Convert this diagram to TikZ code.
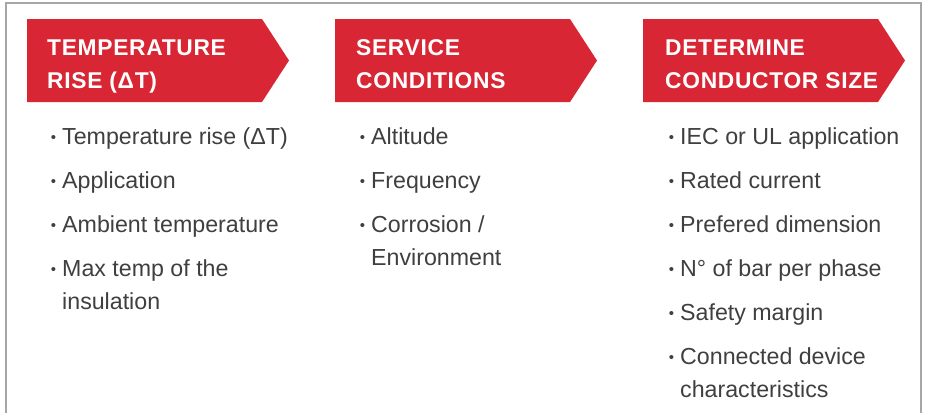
\documentclass[tikz,border=0pt]{standalone}
\usepackage{fontspec}
\setmainfont{Liberation Sans}
\newfontfamily\bannerfont[LetterSpace=3]{Liberation Sans}
\definecolor{bannerred}{HTML}{D92634}
\definecolor{bodygray}{HTML}{3F3F3F}
\definecolor{framegray}{HTML}{A6A6A6}
\tikzset{
  banner/.style={fill=bannerred},
  bannertext/.style={anchor=base west, inner sep=0pt, text=white, align=left,
    font=\bannerfont\bfseries\fontsize{22.8}{33}\selectfont},
  item/.style={anchor=base west, inner sep=0pt, text=bodygray, align=left,
    font=\fontsize{23.2}{33}\selectfont},
}
\newcommand{\itembullet}{\llap{\raisebox{1.5pt}{\fontsize{15}{15}\selectfont •}\hspace{6pt}}}
\begin{document}
\begin{tikzpicture}[x=1pt,y=-1pt]
\useasboundingbox (0,0) rectangle (925,413);
% frame
\draw[framegray, line width=1.3pt] (6,413) -- (6,3) -- (921,3) -- (921,413);
% banners
\foreach \bx in {27,335,643}{
  \fill[banner] (\bx,19) -- (\bx+235,19) -- (\bx+262,60.5) -- (\bx+235,102) -- (\bx,102) -- cycle;
}
% multi-line nodes are placed by the baseline of their last line
\node[bannertext] (b1) at (47,88) {TEMPERATURE\\RISE (ΔT)};
\node[bannertext] (b2) at (356,88) {SERVICE\\CONDITIONS};
\node[bannertext] (b3) at (665,88) {DETERMINE\\CONDUCTOR SIZE};
% column 1
\node[item] (a1) at (62,144) {\itembullet Temperature rise (ΔT)};
\node[item] (a2) at (62,188) {\itembullet Application};
\node[item] (a3) at (62,232) {\itembullet Ambient temperature};
\node[item] (a4) at (62,309) {\itembullet Max temp of the\\insulation};
% column 2
\node[item] (c1) at (371,144) {\itembullet Altitude};
\node[item] (c2) at (371,188) {\itembullet Frequency};
\node[item] (c3) at (371,265) {\itembullet Corrosion /\\Environment};
% column 3
\node[item] (d1) at (680,144) {\itembullet IEC or UL application};
\node[item] (d2) at (680,188) {\itembullet Rated current};
\node[item] (d3) at (680,232) {\itembullet Prefered dimension};
\node[item] (d4) at (680,276) {\itembullet N° of bar per phase};
\node[item] (d5) at (680,320) {\itembullet Safety margin};
\node[item] (d6) at (680,397) {\itembullet Connected device\\characteristics};
\end{tikzpicture}
\end{document}
